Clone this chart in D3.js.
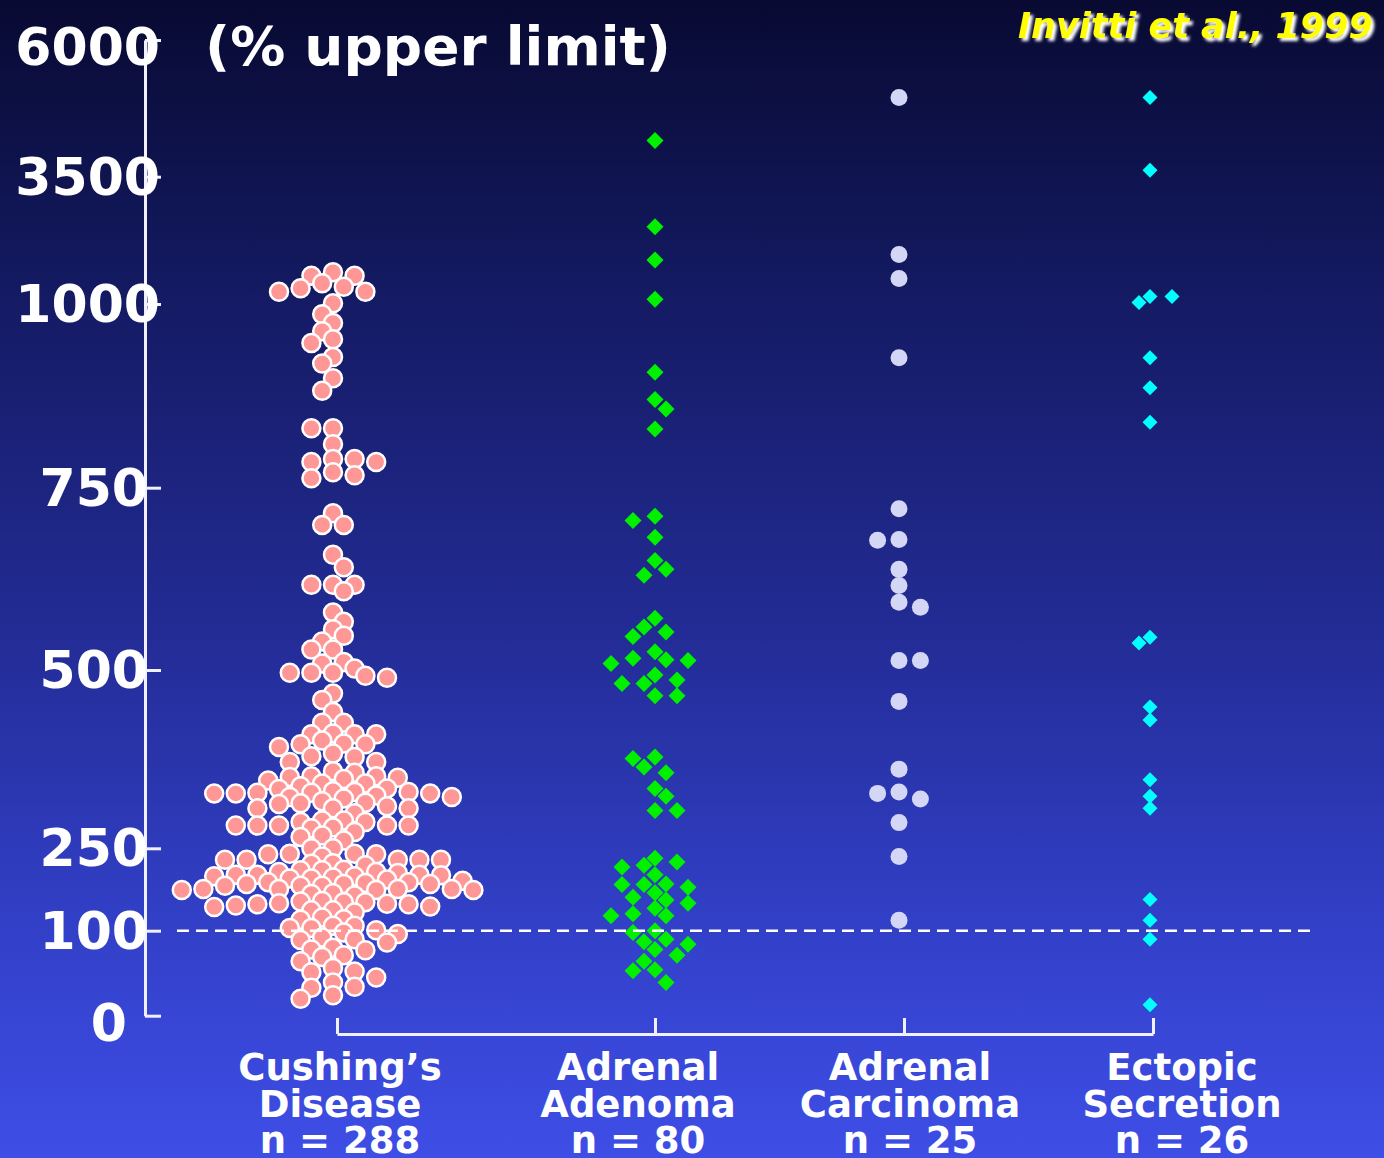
<!DOCTYPE html>
<html>
<head>
<meta charset="utf-8">
<script src="https://cdn.jsdelivr.net/npm/d3@7"></script>
<style>
html,body{margin:0;padding:0;background:#0a0b36;}
svg{display:block}
text{font-family:Verdana,"DejaVu Sans",sans-serif;font-weight:bold;fill:#fff;}
</style>
</head>
<body>
<svg id="chart" width="1384" height="1158"></svg>
<script>
// ---------------- data ----------------
const groups = ["Cushing’s Disease", "Adrenal Adenoma", "Adrenal Carcinoma", "Ectopic Secretion"];
const groupLabels = [
  ["Cushing’s", "Disease", "n = 288"],
  ["Adrenal", "Adenoma", "n = 80"],
  ["Adrenal", "Carcinoma", "n = 25"],
  ["Ectopic", "Secretion", "n = 26"]
];
const yTicks = [0, 100, 250, 500, 750, 1000, 3500, 6000];
const yTitle = "(% upper limit)";
const citation = "Invitti et al., 1999";
const upperLimit = 100;

const cushing = [
  1622,1556,1556,1407,1340,1308,1242,1242,1014,986,974,963,952,947,928,919,899,882,
  831,831,809,789,789,785,785,771,767,763,715,699,699,
  658,641,617,617,617,608,579,566,556,547,539,528,528,511,509,502,496,496,496,492,489,467,458,441,426,426,
  411,410,410,410,401,397,396,396,392,383,379,378,371,371,358,356,351,351,350,349,347,345,341,341,337,334,333,
  330,329,329,328,328,327,327,327,324,322,322,320,316,314,313,312,309,306,306,306,299,289,289,287,287,
  282,282,282,282,282,279,278,273,268,266,261,250,250,240,240,239,239,235,229,229,229,229,229,
  223,222,219,211,210,210,207,207,205,202,202,202,201,199,199,197,195,195,193,191,188,188,187,185,185,185,
  182,182,182,176,176,176,176,174,174,174,168,167,164,
  154,153,152,152,150,149,148,148,146,144,143,137,137,133,124,121,120,109,109,105,105,101,98,96,92,90,89,86,
  80,78,77,71,69,64,56,52,51,45,39,34,33,24,20
];
const adenoma = [
  4160,2518,1864,1092,907,870,857,830,711,705,682,650,638,630,571,559,552,546,525,516,514,509,513,
  493,486,481,481,464,464,376,378,364,356,334,323,303,303,232,225,219,216,202,184,184,185,179,169,
  161,156,150,141,131,127,127,100,98,90,87,84,78,71,64,54,53,39
];
const carcinoma = [4950,1970,1500,927,721,678,679,638,616,593,586,513,513,456,361,327,329,319,286,235,119];
const ectopic = [4950,3620,1149,1029,1149,927,886,839,545,537,448,430,346,323,306,157,119,90,13];

// ---------------- layout ----------------
const W = 1384, H = 1158;
const svg = d3.select("#chart");
const defs = svg.append("defs");

const grad = defs.append("linearGradient").attr("id", "bg")
  .attr("x1", 0).attr("y1", 0).attr("x2", 0).attr("y2", 1);
[[0, "#080a32"], [0.25, "#141a62"], [0.55, "#232c96"], [0.8, "#3240c8"], [1, "#3e4ee6"]]
  .forEach(([o, c]) => grad.append("stop").attr("offset", o).attr("stop-color", c));

const filt = defs.append("filter").attr("id", "shadow")
  .attr("x", "-10%").attr("y", "-40%").attr("width", "130%").attr("height", "200%");
filt.append("feGaussianBlur").attr("in", "SourceAlpha").attr("stdDeviation", 1.6).attr("result", "b");
filt.append("feOffset").attr("in", "b").attr("dx", 3).attr("dy", 3).attr("result", "o");
filt.append("feFlood").attr("flood-color", "#ffffff").attr("result", "f");
filt.append("feComposite").attr("in", "f").attr("in2", "o").attr("operator", "in").attr("result", "s");
const fm = filt.append("feMerge");
fm.append("feMergeNode").attr("in", "s");
fm.append("feMergeNode").attr("in", "SourceGraphic");

svg.append("rect").attr("width", W).attr("height", H).attr("fill", "url(#bg)");

// scales
const y = d3.scaleLinear().domain(yTicks)
  .range([1015.7, 930.7, 848.3, 670, 487.7, 304, 176.7, 40]);
const xTick = d3.scaleOrdinal().domain(groups).range([337, 655, 904, 1153]);
const xCol = d3.scaleOrdinal().domain(groups).range([333, 655, 899, 1150]);
const xLab = d3.scaleOrdinal().domain(groups).range([340, 638, 910, 1182]);

// y axis
const yAxisG = svg.append("g").attr("transform", "translate(145,0)")
  .call(d3.axisRight(y).tickValues(yTicks).tickSize(16).tickSizeOuter(0).tickFormat(""));
yAxisG.selectAll("path,line").attr("stroke", "#f0f0ff").attr("stroke-width", 3);

const tickRight = {4: 160, 3: 148, 1: 127};
svg.append("g").selectAll("text").data(yTicks).join("text")
  .attr("x", d => tickRight[String(d).length])
  .attr("y", (d, i) => y(d) + 18 + ((i === 0 || i === yTicks.length - 1) ? 7 : 0))
  .attr("text-anchor", "end")
  .attr("font-size", 52)
  .text(d => d);

svg.append("text").attr("x", 205).attr("y", 65).attr("font-size", 53)
  .attr("textLength", 466).attr("lengthAdjust", "spacingAndGlyphs")
  .text(yTitle);

svg.append("text").attr("x", 1018).attr("y", 38)
  .attr("font-size", 35).attr("font-style", "italic")
  .style("fill", "#ffff00")
  .style("font-family", "'Comic Sans MS','DejaVu Sans',sans-serif")
  .attr("filter", "url(#shadow)")
  .text(citation);

// x axis
const xAxisG = svg.append("g").attr("transform", "translate(0,1034)")
  .call(d3.axisBottom(xTick).tickSizeInner(-16).tickSizeOuter(0).tickFormat(""));
xAxisG.selectAll("path,line").attr("stroke", "#f0f0ff").attr("stroke-width", 3);

const labG = svg.append("g");
groups.forEach((g, i) => {
  const t = labG.append("text").attr("text-anchor", "middle").attr("font-size", 37);
  groupLabels[i].forEach((line, j) => {
    t.append("tspan").attr("x", xLab(g)).attr("y", 1080 + j * 36.7).text(line);
  });
});

// swarm layout
function swarm(values, cx, step, minDist) {
  const pts = values.map((v, i) => ({v, i, y: y(v)})).sort((a, b) => b.v - a.v);
  const placed = [];
  const md2 = minDist * minDist;
  for (const p of pts) {
    for (let k = 0; k < 200; k++) {
      const sgn = ((k + p.i) % 2) ? 1 : -1;
      const off = k === 0 ? 0 : sgn * Math.ceil(k / 2) * step;
      const x = cx + off;
      let ok = true;
      for (const q of placed) {
        const dx = q.x - x, dy = q.y - p.y;
        if (dx * dx + dy * dy < md2) { ok = false; break; }
      }
      if (ok) { p.x = x; placed.push(p); break; }
    }
  }
  return placed;
}

const diamond = s => `M0,${-s}L${s},0L0,${s}L${-s},0Z`;

const series = [
  {g: groups[0], values: cushing, shape: "circle", size: 9, fill: "#ff9797", stroke: "#ffffff", sw: 2.5, step: 10.8, md: 12.5},
  {g: groups[1], values: adenoma, shape: "diamond", size: 8.5, fill: "#00f000", stroke: "none", sw: 0, step: 11, md: 13},
  {g: groups[2], values: carcinoma, shape: "circle", size: 8.5, fill: "#d4d6f6", stroke: "none", sw: 0, step: 10.7, md: 15},
  {g: groups[3], values: ectopic, shape: "diamond", size: 7.5, fill: "#00ffff", stroke: "none", sw: 0, step: 11, md: 12}
];

series.forEach(s => {
  const pts = swarm(s.values, xCol(s.g), s.step, s.md);
  const gg = svg.append("g");
  if (s.shape === "circle") {
    gg.selectAll("circle").data(pts).join("circle")
      .attr("cx", d => d.x).attr("cy", d => d.y).attr("r", s.size)
      .attr("fill", s.fill).attr("stroke", s.stroke).attr("stroke-width", s.sw);
  } else {
    gg.selectAll("path").data(pts).join("path")
      .attr("transform", d => `translate(${d.x},${d.y})`)
      .attr("d", diamond(s.size)).attr("fill", s.fill);
  }
});

// upper limit dashed line
svg.append("line")
  .attr("x1", 177).attr("x2", 1310)
  .attr("y1", y(upperLimit)).attr("y2", y(upperLimit))
  .attr("stroke", "#ffffff").attr("stroke-width", 2.5)
  .attr("stroke-dasharray", "12,7");
</script>
</body>
</html>
